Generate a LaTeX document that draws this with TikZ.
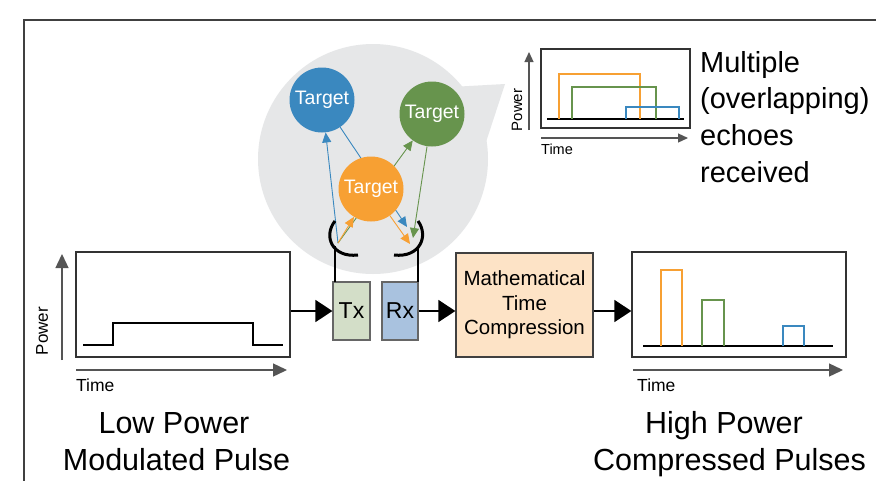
\documentclass[tikz,border=0pt]{standalone}
\usepackage{fontspec}
\setmainfont{Liberation Sans}
\usetikzlibrary{arrows.meta,backgrounds}
\definecolor{bub}{HTML}{E6E7E8}
\definecolor{tblue}{HTML}{3A88BF}
\definecolor{tgreen}{HTML}{67944D}
\definecolor{torange}{HTML}{F7A033}
\definecolor{txfill}{HTML}{D3DEC8}
\definecolor{rxfill}{HTML}{A9C2DF}
\definecolor{mathfill}{HTML}{FDE3C6}
\definecolor{axisgray}{HTML}{555555}
\newcommand{\fsz}[1]{\fontsize{#1}{#1}\selectfont}
\tikzset{
  target/.style={circle,minimum size=65pt,inner sep=0pt,text=white,font=\fsz{19.5}},
  plotbox/.style={draw=black!80,line width=1.3pt,minimum width=214pt,minimum height=105pt,inner sep=0pt},
  trxbox/.style={draw=black!60,line width=1.2pt,minimum width=37pt,minimum height=58pt,inner sep=0pt,font=\fsz{23}},
  flow/.style={line width=1.6pt,-{Triangle[length=17pt,width=22pt]}},
  axis/.style={axisgray,line width=1.4pt,-{Triangle[length=14pt,width=13pt]}},
  saxis/.style={axisgray,line width=1.2pt,-{Triangle[length=10pt,width=9pt]}},
  ray/.style={line width=0.9pt,-{Triangle[length=10pt,width=9pt]}},
  dish/.style={line width=3pt},
  stem/.style={line width=2.8pt},
  pulse/.style={line width=2pt},
  lbl/.style={font=\fsz{17.5},inner sep=0pt},
  big/.style={font=\fsz{30.5},inner sep=0pt},
  side/.style={font=\fsz{29},inner sep=0pt,anchor=base west}
}
\begin{document}
\begin{tikzpicture}[x=1pt,y=-1pt]
\useasboundingbox (0,0) rectangle (876,480);
% frame
\draw[black!75,line width=1.2pt] (880,20) -- (24,20) -- (24,485);

% targets
\node[target,fill=tblue] (bt) at (322,100) {Target};
\node[target,fill=tgreen] (gt) at (432,114) {Target};
\node[target,fill=torange] (ot) at (371,189) {Target};

% antenna foci / arrow ends
\coordinate (txf) at (338,243);
\coordinate (rb) at (407,227);
\coordinate (rg) at (413,238);
\coordinate (ro) at (410,244);

\begin{scope}[on background layer]
  \fill[white] (0,0) rectangle (876,480);
  \fill[bub] (373,159) circle[radius=115];
  \fill[bub] (440,100) -- (460,86.5) -- (505,84) -- (486,142) -- (440,140) -- cycle;
  \draw[ray,tblue] (txf) -- (bt);
  \draw[ray,tgreen] (txf) -- (gt);
  \draw[ray,torange] (txf) -- (ot);
  \draw[ray,tblue] (bt) -- (rb);
  \draw[ray,tgreen] (gt) -- (rg);
  \draw[ray,torange] (ot) -- (ro);
\end{scope}

% Tx / Rx
\node[trxbox,fill=txfill] (tx) at (351.5,311) {Tx};
\node[trxbox,fill=rxfill,minimum width=36pt] (rx) at (400,311) {Rx};

% dishes and stems
\draw[dish] (335,221) .. controls (323,236) and (332,258) .. (358,255);
\draw[dish] (418,221) .. controls (429,236) and (420,258) .. (394,255);
\draw[stem] (335,246) -- (335,282);
\draw[stem] (418,246) -- (418,282);

% math box
\node[draw=black!75,line width=1.3pt,fill=mathfill,minimum width=137pt,minimum height=104pt,inner sep=0pt,
      align=center,font=\fontsize{20.5}{24.5}\selectfont] (mb) at (524.5,305)
      {Mathematical\\Time\\Compression};

% left plot
\node[plotbox] (lb) at (183,304.5) {};
\draw[pulse] (83,345) -- (113,345) -- (113,323) -- (253,323) -- (253,345) -- (283,345);
\coordinate (lpa0) at (62,360);
\coordinate (lpa1) at (62,254);
\draw[axis] (lpa0) -- (lpa1);
\coordinate (lta0) at (76,370);
\coordinate (lta1) at (287,370);
\draw[axis] (lta0) -- (lta1);
\node[lbl,rotate=90,font=\fsz{17}] (lpow) at (42,331) {Power};
\node[lbl,anchor=base west] (ltime) at (76,391) {Time};

% right plot
\node[plotbox] (rbx) at (739,304.5) {};
\draw[pulse] (643,346) -- (833,346);
\draw[torange,line width=1.8pt] (661,346) -- (661,270) -- (682,270) -- (682,346);
\draw[tgreen,line width=1.8pt] (702,346) -- (702,300) -- (724,300) -- (724,346);
\draw[tblue,line width=1.8pt] (783,346) -- (783,326) -- (804,326) -- (804,346);
\coordinate (rta0) at (633,370);
\coordinate (rta1) at (843,370);
\draw[axis] (rta0) -- (rta1);
\node[lbl,anchor=base west] (rtime) at (637,391) {Time};

% flow arrows
\draw[flow] (lb.east |- tx.west) -- (tx.west);
\draw[flow] (rx.east) -- (rx.east -| mb.west);
\draw[flow] (mb.east |- rx.east) -- (rbx.west |- rx.east);

% inset plot
\node[draw=black!80,line width=1.2pt,minimum width=149pt,minimum height=79pt,inner sep=0pt] (ib) at (615.5,88.5) {};
\draw[line width=1.6pt] (547,119) -- (684,119);
\draw[torange,line width=1.3pt] (559,119) -- (559,74) -- (640,74) -- (640,119);
\draw[tgreen,line width=1.3pt] (572,119) -- (572,87) -- (656,87) -- (656,119);
\draw[tblue,line width=1.3pt] (626,119) -- (626,107) -- (679,107) -- (679,119);
\coordinate (ipa0) at (529,130);
\coordinate (ipa1) at (529,52);
\draw[saxis] (ipa0) -- (ipa1);
\coordinate (ita0) at (541,138);
\coordinate (ita1) at (688,138);
\draw[saxis] (ita0) -- (ita1);
\node[lbl,rotate=90,font=\fsz{15}] (ipow) at (517,110) {Power};
\node[lbl,anchor=base west,font=\fsz{14.5}] (itime) at (541,154) {Time};

% side text
\node[side] (s1) at (700,72) {Multiple};
\node[side] (s2) at (700,108) {(overlapping)};
\node[side] (s3) at (700,145) {echoes};
\node[side] (s4) at (700,182) {received};

% bottom captions
\node[big,anchor=base] (c1) at (174,433) {Low Power};
\node[big,anchor=base] (c2) at (176.5,470) {Modulated Pulse};
\node[big,anchor=base] (c3) at (724,433) {High Power};
\node[big,anchor=base] (c4) at (729.5,470) {Compressed Pulses};
\end{tikzpicture}
\end{document}
